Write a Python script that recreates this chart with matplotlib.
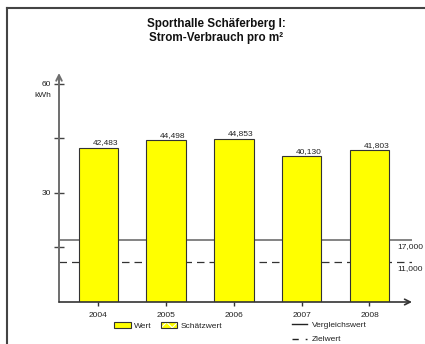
import matplotlib

matplotlib.use("Agg")
import matplotlib.pyplot as plt
from matplotlib.legend_handler import HandlerTuple
from matplotlib.lines import Line2D
from matplotlib.patches import Patch

# data
years = ["2004", "2005", "2006", "2007", "2008"]
values = [42.483, 44.498, 44.853, 40.130, 41.803]
vergleichswert = 17.0
zielwert = 11.0
y_ticks = [15, 30, 45, 60]
y_ticklabels = ["", "30", "", "60"]

plt.rcParams["font.family"] = ["Liberation Sans", "DejaVu Sans"]
plt.rcParams["hatch.linewidth"] = 0.8

AXIS = "#6e6e6e"
TEXT = "#222222"
FS = 6

fig = plt.figure(figsize=(4.25, 3.44), dpi=100, facecolor="white")
ax = fig.add_axes([59 / 425, 1 - 302 / 344, 353 / 425, 229 / 344])

x = list(range(len(years)))
ax.bar(x, values, width=0.583, color="#FFFF00", edgecolor="#333333", linewidth=0.8, zorder=2)

for xi, v in zip(x, values):
    label = f"{v:.3f}".replace(".", ",")
    ax.text(xi + 0.29, v + 0.4, label, ha="right", va="bottom", fontsize=FS, color=TEXT)

ax.axhline(vergleichswert, color=AXIS, linewidth=1.2, zorder=1)
ax.axhline(zielwert, color="#333333", linewidth=0.9, dashes=(6, 4), zorder=1)

for val in (vergleichswert, zielwert):
    ax.text(0.9575, val - 0.9, f"{val:,.3f}".replace(".", ","), transform=ax.get_yaxis_transform(),
            ha="left", va="top", fontsize=FS, color=TEXT)

ax.set_xlim(-0.58, 4.627)
ax.set_ylim(0, 63)
ax.set_xticks(x)
ax.set_xticklabels(years)
ax.set_yticks(y_ticks)
ax.set_yticklabels(y_ticklabels)
ax.tick_params(axis="y", direction="inout", length=7, width=1.0, color="#444444", labelsize=FS, labelcolor=TEXT, pad=2)
ax.tick_params(axis="x", direction="out", length=3, width=1.0, color="#333333", labelsize=FS, labelcolor=TEXT, pad=4)

for spine in ax.spines.values():
    spine.set_visible(False)

ax.annotate("", xy=(0, 1.0), xytext=(0, 0), xycoords="axes fraction",
            arrowprops=dict(arrowstyle="->", color=AXIS, lw=1.4, shrinkA=0, shrinkB=0))
ax.annotate("", xy=(1.0, 0), xytext=(0, 0), xycoords="axes fraction",
            arrowprops=dict(arrowstyle="->", color="#333333", lw=1.2, shrinkA=0, shrinkB=0))

fig.text(43 / 425, 1 - 95 / 344, "kWh", ha="center", va="center", fontsize=FS, color=TEXT)

fig.text(216 / 425, 1 - 31 / 344, "Sporthalle Schäferberg I:\nStrom-Verbrauch pro m²",
         ha="center", va="center", fontsize=8.4, fontweight="bold", color="#111111", linespacing=1.15)

# outer frame (left and top only visible)
fig.add_artist(Line2D([7 / 425, 7 / 425], [0, 1 - 8 / 344], transform=fig.transFigure, color="#444444", lw=1.5))
fig.add_artist(Line2D([7 / 425, 1], [1 - 8 / 344, 1 - 8 / 344], transform=fig.transFigure, color="#444444", lw=1.5))

wert_patch = Patch(facecolor="#FFFF00", edgecolor="#333333", linewidth=0.8)
schaetz_fill = Patch(facecolor="#FFFF00", edgecolor="white", linewidth=0, hatch="xxx")
schaetz_edge = Patch(facecolor="none", edgecolor="#333333", linewidth=0.8)
leg1 = fig.legend(handles=[wert_patch, (schaetz_fill, schaetz_edge)], labels=["Wert", "Schätzwert"],
                  handler_map={tuple: HandlerTuple(ndivide=1, pad=0)},
                  ncol=2, loc="center left", bbox_to_anchor=(114 / 425, 1 - 326 / 344),
                  frameon=False, fontsize=FS, handlelength=2.0, handleheight=0.75, columnspacing=1.1,
                  handletextpad=0.4, borderaxespad=0, borderpad=0)
for t in leg1.get_texts():
    t.set_color(TEXT)

line_handles = [
    Line2D([], [], color="#222222", lw=1.0, label="Vergleichswert"),
    Line2D([], [], color="#222222", lw=1.0, dashes=(4.5, 5), label="Zielwert"),
]
leg2 = fig.legend(handles=line_handles, ncol=1, loc="center left", bbox_to_anchor=(292 / 425, 1 - 332.5 / 344),
                  frameon=False, fontsize=FS, handlelength=1.85, handletextpad=0.55, labelspacing=0.75,
                  borderaxespad=0, borderpad=0)
for t in leg2.get_texts():
    t.set_color(TEXT)

fig.savefig("out.png", dpi=100, facecolor="white")
